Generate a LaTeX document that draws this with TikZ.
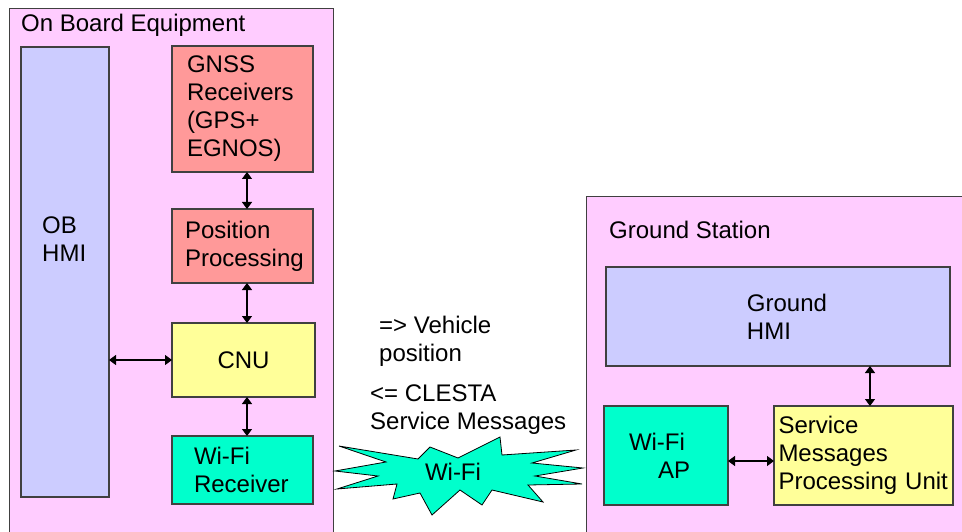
\documentclass[tikz,border=0pt]{standalone}
\usepackage{fontspec}
\setmainfont{Liberation Sans}
\usetikzlibrary{arrows.meta}
\definecolor{obepink}  {RGB}{255,204,255}
\definecolor{hmiblue}  {RGB}{204,204,255}
\definecolor{gnssred}  {RGB}{255,153,153}
\definecolor{cnuyellow}{RGB}{255,255,153}
\definecolor{wifigreen}{RGB}{  0,255,204}
\definecolor{edgegray} {RGB}{ 64, 64, 64}

\begin{document}
\begin{tikzpicture}[
      x=1pt, y=-1pt,
      font=\fontsize{24}{28}\selectfont,
      cbox/.style={draw=edgegray, line width=1pt, fill=obepink,
                   inner sep=0pt, outer sep=0pt},
      ubox/.style={draw=edgegray, line width=1.2pt, inner sep=0pt,
                   outer sep=0pt, align=left},
      lbl/.style={inner sep=0pt, anchor=base west, align=left},
      arr/.style={{Triangle[length=7pt,width=10pt]}-{Triangle[length=7pt,width=10pt]},
                  line width=1.3pt, black},
    ]
      \useasboundingbox (0,0) rectangle (962,532);
      \fill[white] (0,0) rectangle (962,532);
      \clip (0,0) rectangle (962,532);

      % Containers
      \node[cbox, minimum width=324, minimum height=536] (obe) at (171, 277) {};
      \node[cbox, minimum width=389, minimum height=348] (gs)  at (780.5, 371) {};
      \node[lbl] (obetitle) at ( 21,  32) {On Board Equipment};
      \node[lbl] (gstitle)  at (609, 238) {Ground Station};

      % On board units
      \node[ubox, fill=hmiblue, minimum width=88, minimum height=450] (obhmi) at (65, 272) {};
      \node[lbl] (obhmilbl) at (42, 261) {OB\\HMI};
      \node[ubox, fill=gnssred, minimum width=141, minimum height=126, text width=111]
            (gnss) at (242.5, 109) {GNSS\\Receivers\\(GPS+\\EGNOS)};
      \node[ubox, fill=gnssred, minimum width=141, minimum height=74, text width=115]
            (pos) at (242.5, 246) {Position\\Processing};
      \node[ubox, fill=cnuyellow, minimum width=143, minimum height=74, align=center]
            (cnu) at (243.5, 360) {CNU};
      \node[ubox, fill=wifigreen, minimum width=141, minimum height=68, text width=97]
            (wifirx) at (242.5, 470) {Wi-Fi\\Receiver};

      % Ground units
      \node[ubox, fill=hmiblue, minimum width=344, minimum height=99]
            (ghmi) at (778, 316.5) {\hspace*{18pt}Ground\\\hspace*{18pt}HMI};
      \node[ubox, fill=wifigreen, minimum width=124, minimum height=99, text width=74]
            (wifiap) at (666, 455.5) {Wi-Fi\\\hspace*{29pt}AP};
      \node[ubox, fill=cnuyellow, minimum width=179, minimum height=99, text width=170]
            (smpu) at (863.5, 455.5) {Service\\Messages\\Processing Unit};

      % Radio link
      \filldraw[fill=wifigreen, draw=black, line width=0.8pt]
            (339,446) -- (418,459) -- (430,447) -- (458,458) -- (500,437)
            -- (502,455) -- (576,450) -- (532,463) -- (583,468) -- (535,476)
            -- (582,484) -- (528,485) -- (543,502) -- (492,490) -- (482,505)
            -- (460,490) -- (432,515) -- (420,493) -- (393,499) -- (397,484)
            -- (337,489) -- (378,476) -- (335,471) -- (386,462) -- cycle;
      \node (wifilbl) at (453, 472) {Wi-Fi};
      \node[lbl] (uplink)   at (379, 361) {=> Vehicle\\position};
      \node[lbl] (downlink) at (370, 429) {<= CLESTA\\Service Messages};

      % Arrows
      \draw[arr] ([xshift=4.5pt]gnss.south) -- ([xshift=4.5pt]pos.north);
      \draw[arr] ([xshift=4.5pt]pos.south) -- ([xshift=3.5pt]cnu.north);
      \draw[arr] ([xshift=3.5pt]cnu.south) -- ([xshift=4.5pt]wifirx.north);
      \draw[arr] (cnu.west -| obhmi.east) -- (cnu.west);
      \draw[arr] ([xshift=6.5pt]smpu.north |- ghmi.south) -- ([xshift=6.5pt]smpu.north);
      \draw[arr] ([yshift=-5.5pt]wifiap.east) -- ([yshift=-5.5pt]smpu.west);
    \end{tikzpicture}
\end{document}
